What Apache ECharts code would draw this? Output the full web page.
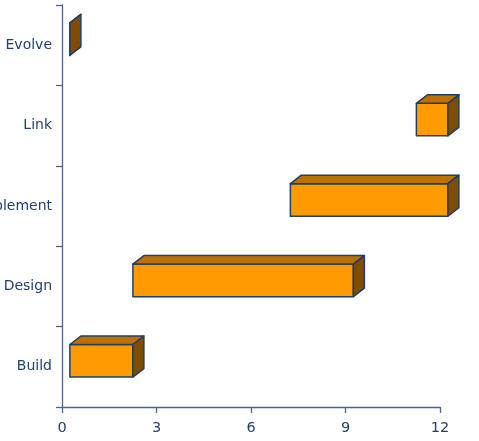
<!DOCTYPE html>
<html>
<head>
<meta charset="utf-8">
<script src="https://cdn.jsdelivr.net/npm/echarts@6/dist/echarts.min.js"></script>
<style>html,body{margin:0;padding:0;background:#fff;}#c{width:479px;height:441px;}</style>
</head>
<body>
<div id="c"></div>
<script>
var categories = ['Build', 'Design', 'Implement', 'Link', 'Evolve'];
var startValues = [0.25, 2.25, 7.25, 11.25, 0.25];
var endValues = [2.25, 9.25, 12.25, 12.25, 0.25];
var xTicks = [0, 3, 6, 9, 12];

var data = categories.map(function (c, i) { return [i, startValues[i], endValues[i]]; });

var chart = echarts.init(document.getElementById('c'));
var axisColor = '#46688F';
var textColor = '#1F3F6E';
var edge = '#1F3F66';

function renderItem(params, api) {
  var cat = api.value(0);
  var p1 = api.coord([api.value(1), cat]);
  var p2 = api.coord([api.value(2), cat]);
  var band = api.size([0, 1])[1];
  var h = band * 0.405;
  var cy = p1[1] - band * 0.075;
  var yT = cy - h / 2, yB = cy + h / 2;
  var x1 = p1[0], x2 = p2[0];
  var dx = 11, dy = 8.5;
  var ls = { stroke: edge, lineWidth: 1.5, lineJoin: 'round' };
  return {
    type: 'group',
    children: [
      { type: 'polygon', shape: { points: [[x1, yT], [x2, yT], [x2, yB], [x1, yB]] },
        style: Object.assign({ fill: '#FF9A00' }, ls) },
      { type: 'polygon', shape: { points: [[x1, yT], [x1 + dx, yT - dy], [x2 + dx, yT - dy], [x2, yT]] },
        style: Object.assign({ fill: '#C07000' }, ls) },
      { type: 'polygon', shape: { points: [[x2, yT], [x2 + dx, yT - dy], [x2 + dx, yB - dy], [x2, yB]] },
        style: Object.assign({ fill: '#7F4C00' }, ls) }
    ]
  };
}

chart.setOption({
  backgroundColor: '#ffffff',
  animation: false,
  grid: { left: 62, right: 39, top: 5, bottom: 34, containLabel: false, outerBoundsMode: 'none' },
  xAxis: {
    type: 'value', min: xTicks[0], max: xTicks[xTicks.length - 1], interval: 3,
    axisLine: { show: true, lineStyle: { color: axisColor, width: 1.3 } },
    axisTick: { show: true, length: 6, lineStyle: { color: axisColor, width: 1.3 } },
    axisLabel: { color: textColor, fontFamily: 'DejaVu Sans', fontSize: 14.5, margin: 14 },
    splitLine: { show: false }
  },
  yAxis: {
    type: 'category', data: categories,
    axisLine: { show: true, lineStyle: { color: axisColor, width: 1.3 } },
    axisTick: { show: true, length: 6, lineStyle: { color: axisColor, width: 1.3 } },
    axisLabel: { color: textColor, fontFamily: 'DejaVu Sans', fontSize: 14, margin: 10, padding: [4, 0, 0, 0] },
    splitLine: { show: false }
  },
  series: [{
    type: 'custom', renderItem: renderItem, data: data, clip: false,
    encode: { x: [1, 2], y: 0 }
  }]
});
</script>
</body>
</html>
